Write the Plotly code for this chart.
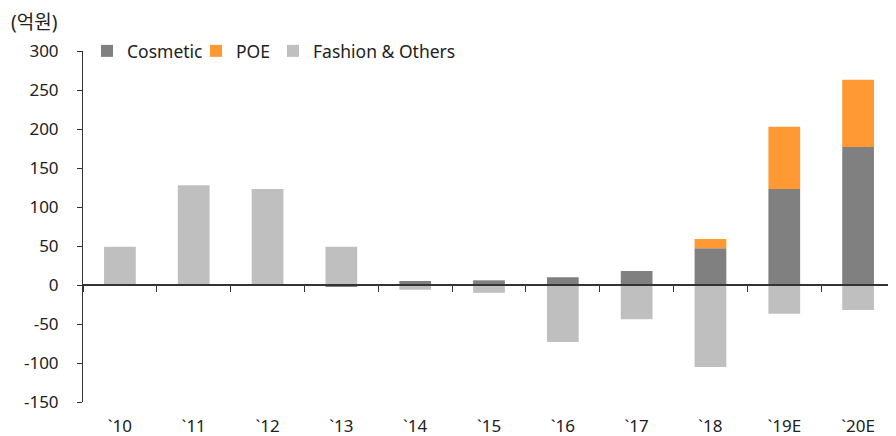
import plotly.graph_objects as go

categories = ["`10", "`11", "`12", "`13", "`14", "`15", "`16", "`17", "`18", "`19E", "`20E"]
cosmetic = [0, 0, 0, -2, 5, 6, 10, 18, 47, 123, 177]
poe = [0, 0, 0, 0, 0, 0, 0, 0, 12, 80, 86]
fashion = [49, 128, 123, 49, -6, -10, -73, -44, -105, -37, -32]
y_ticks = [-150, -100, -50, 0, 50, 100, 150, 200, 250, 300]
y_tick_labels = ["-150", "-100", "-50", "0", "50", "100", "150", "200", "250", "300"]

FONT = "Noto Sans, Noto Sans CJK KR"

# page body has an 8px margin; plot area is placed to match the reference
L, T, R, B = 75, 43, 1, 34
W, H = 888, 428
PW = W - L - R
PH = H - T - B


def px_x(x):
    return (x - 8 - L) / PW


def px_y(y):
    return 1 - (y - 8 - T) / PH


fig = go.Figure()
fig.add_bar(x=categories, y=cosmetic, name="Cosmetic", marker_color="#808080",
            marker_line_width=0, legend="legend")
fig.add_bar(x=categories, y=poe, name="POE", marker_color="#FF9933",
            marker_line_width=0, legend="legend2")
fig.add_bar(x=categories, y=fashion, name="Fashion & Others", marker_color="#BFBFBF",
            marker_line_width=0, legend="legend3")
# invisible trace for the zero-line axis with ticks between categories
fig.add_scatter(x=categories, y=[0] * len(categories), xaxis="x2", mode="lines",
                line_width=0, opacity=0, showlegend=False, hoverinfo="skip")

leg_common = dict(orientation="h", yanchor="middle", xanchor="left",
                  font=dict(size=17.5), itemwidth=30, bgcolor="rgba(0,0,0,0)",
                  y=px_y(51))

n = len(categories)
fig.update_layout(
    width=W, height=H,
    barmode="relative", bargap=0.57,
    paper_bgcolor="white", plot_bgcolor="white",
    margin=dict(l=L, r=R, t=T, b=B, autoexpand=False),
    font=dict(family=FONT, size=17, color="#222222"),
    legend=dict(x=px_x(87), **leg_common),
    legend2=dict(x=px_x(196), **leg_common),
    legend3=dict(x=px_x(273), **leg_common),
    xaxis=dict(type="category", range=[-0.5, n - 0.5], showline=False, ticks="",
               showgrid=False, tickfont=dict(size=17), ticklabelstandoff=12),
    xaxis2=dict(type="category", overlaying="x", matches="x", anchor="free", position=1/3,
                showline=True, linecolor="#333333", linewidth=1.5,
                ticks="outside", ticklen=6, tickcolor="#333333", tickson="boundaries",
                showticklabels=False, showgrid=False, side="bottom"),
    yaxis=dict(range=[-150, 300], tickvals=y_ticks, ticktext=y_tick_labels,
               showgrid=False, zeroline=False,
               showline=True, linecolor="#333333", linewidth=1,
               ticks="outside", ticklen=5, tickcolor="#333333",
               tickfont=dict(size=17), ticklabelstandoff=15),
    annotations=[dict(text="(억원)", xref="paper", yref="paper", x=px_x(9), y=px_y(22),
                      xanchor="left", yanchor="middle", showarrow=False,
                      font=dict(size=19))],
)

fig.write_html("out.html")
